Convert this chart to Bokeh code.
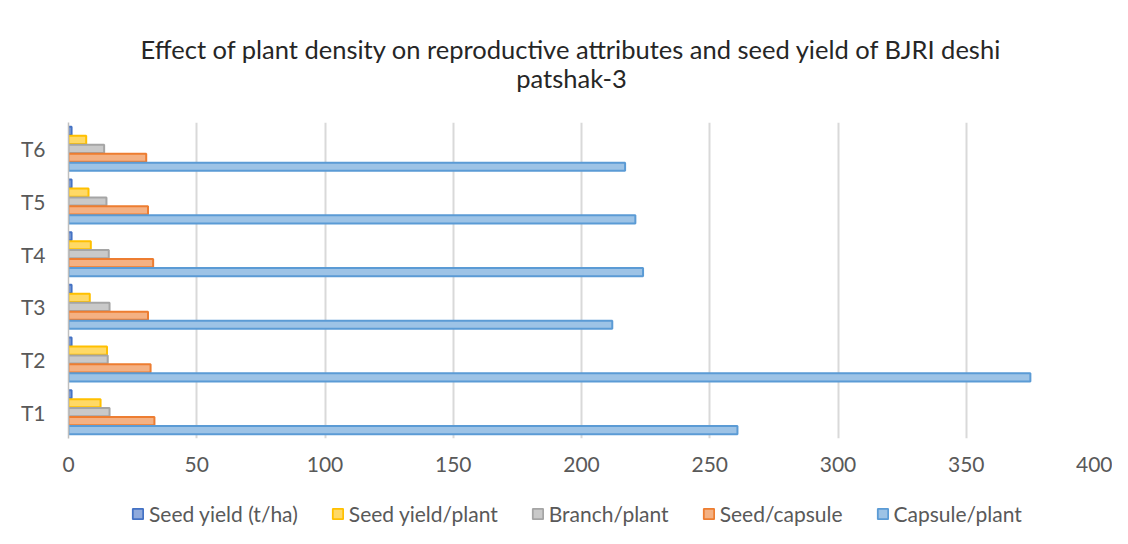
from bokeh.plotting import figure
from bokeh.layouts import column
from bokeh.models import (ColumnDataSource, FactorRange, Range1d, Legend, LegendItem, Label,
                          FixedTicker, BoxAnnotation)
from bokeh.transform import dodge
from bokeh.embed import file_html
from bokeh.resources import INLINE

treatments = ["T1", "T2", "T3", "T4", "T5", "T6"]
seed_yield_ha = [1.2, 1.2, 1.2, 1.2, 1.2, 1.2]
seed_yield_plant = [12.5, 15.0, 8.3, 8.7, 7.8, 6.9]
branch_plant = [16.0, 15.3, 16.0, 15.7, 14.8, 13.9]
seed_capsule = [33.5, 32.0, 31.0, 33.0, 31.0, 30.3]
capsule_plant = [260.8, 375.0, 212.0, 224.0, 221.0, 217.0]

series_names = ["Seed yield (t/ha)", "Seed yield/plant", "Branch/plant", "Seed/capsule", "Capsule/plant"]
x_ticks = [0, 50, 100, 150, 200, 250, 300, 350, 400]
title_lines = ["Effect of plant density on reproductive attributes and seed yield of BJRI deshi",
               "patshak-3"]

source = ColumnDataSource(dict(
    t=treatments,
    sy_ha=seed_yield_ha,
    sy_pl=seed_yield_plant,
    br=branch_plant,
    sc=seed_capsule,
    cp=capsule_plant,
))

FONT = "Lato"
cols = ["sy_ha", "sy_pl", "br", "sc", "cp"]
offsets = [0.34, 0.17, 0.0, -0.17, -0.34]
fills = ["#8FAADC", "#FFD966", "#C9C9C9", "#F4B183", "#9DC3E6"]
lines = ["#4472C4", "#FFC000", "#A5A5A5", "#ED7D31", "#5B9BD5"]

# ---- header strip with the two-line title
hf = figure(width=1112, height=100, x_range=Range1d(0, 1), y_range=Range1d(0, 100),
            output_backend="svg", toolbar_location=None,
            min_border_left=0, min_border_right=0, min_border_top=0, min_border_bottom=0)
hf.axis.visible = False
hf.grid.visible = False
hf.outline_line_color = None
for txt, yy in zip(title_lines, [52, 23]):
    hf.add_layout(Label(x=0.5, y=yy, text=txt, text_align="center", text_baseline="middle",
                        x_offset=-10, text_font=FONT, text_font_size="25.5px",
                        text_color="#262626"))

# ---- main chart
p = figure(
    frame_width=1026, frame_height=316,
    y_range=FactorRange(*treatments, range_padding=0),
    x_range=Range1d(0, 400),
    output_backend="svg", toolbar_location=None,
    min_border_left=68, min_border_right=18, min_border_top=22, min_border_bottom=42,
)

for c, off, f, l in zip(cols, offsets, fills, lines):
    p.hbar(y=dodge("t", off, range=p.y_range), right=c, left=0, height=0.155,
           source=source, fill_color=f, line_color=l, line_width=2)

p.xaxis.ticker = FixedTicker(ticks=x_ticks)
p.xaxis.axis_line_color = None
p.xaxis.major_tick_line_color = None
p.xaxis.minor_tick_line_color = None
p.xaxis.major_label_text_font = FONT
p.xaxis.major_label_text_font_size = "21px"
p.xaxis.major_label_text_color = "#595959"
p.xaxis.major_label_standoff = 12

p.yaxis.axis_line_color = "#BFBFBF"
p.yaxis.axis_line_width = 1.5
p.yaxis.major_tick_line_color = None
p.yaxis.minor_tick_line_color = None
p.yaxis.major_label_text_font = FONT
p.yaxis.major_label_text_font_size = "21px"
p.yaxis.major_label_text_color = "#595959"
p.yaxis.major_label_standoff = 17

p.xgrid.grid_line_color = "#D9D9D9"
p.xgrid.grid_line_width = 2
p.ygrid.grid_line_color = None
p.outline_line_color = None
p.border_fill_color = "white"

# ---- legend strip: proxy bars sit fully inside its frame, hidden under a white cover
lf = figure(width=1112, height=48, x_range=Range1d(-100, 500),
            y_range=FactorRange(*treatments, range_padding=0.5),
            output_backend="svg", toolbar_location=None,
            min_border_left=0, min_border_right=0, min_border_top=0, min_border_bottom=0)
lf.axis.visible = False
lf.grid.visible = False
lf.outline_line_color = None
leg_renderers = []
for c, f, l in zip(cols, fills, lines):
    leg_renderers.append(lf.hbar(y="t", right=c, left=0, height=0.15, source=source,
                                 fill_color=f, line_color=l, line_width=1.8))
lf.add_layout(BoxAnnotation(fill_color="white", fill_alpha=1.0, line_color=None))
legend = Legend(items=[LegendItem(label=n, renderers=[r]) for n, r in zip(series_names, leg_renderers)],
                orientation="horizontal", location=(63, 2),
                label_text_font=FONT, label_text_font_size="21px", label_text_color="#595959",
                glyph_width=13, glyph_height=13, spacing=33, label_standoff=5,
                border_line_color=None, background_fill_alpha=0, margin=0, padding=0)
lf.add_layout(legend, "center")

layout = column(hf, p, lf, spacing=0)
open("out.html", "w").write(file_html(layout, INLINE))
